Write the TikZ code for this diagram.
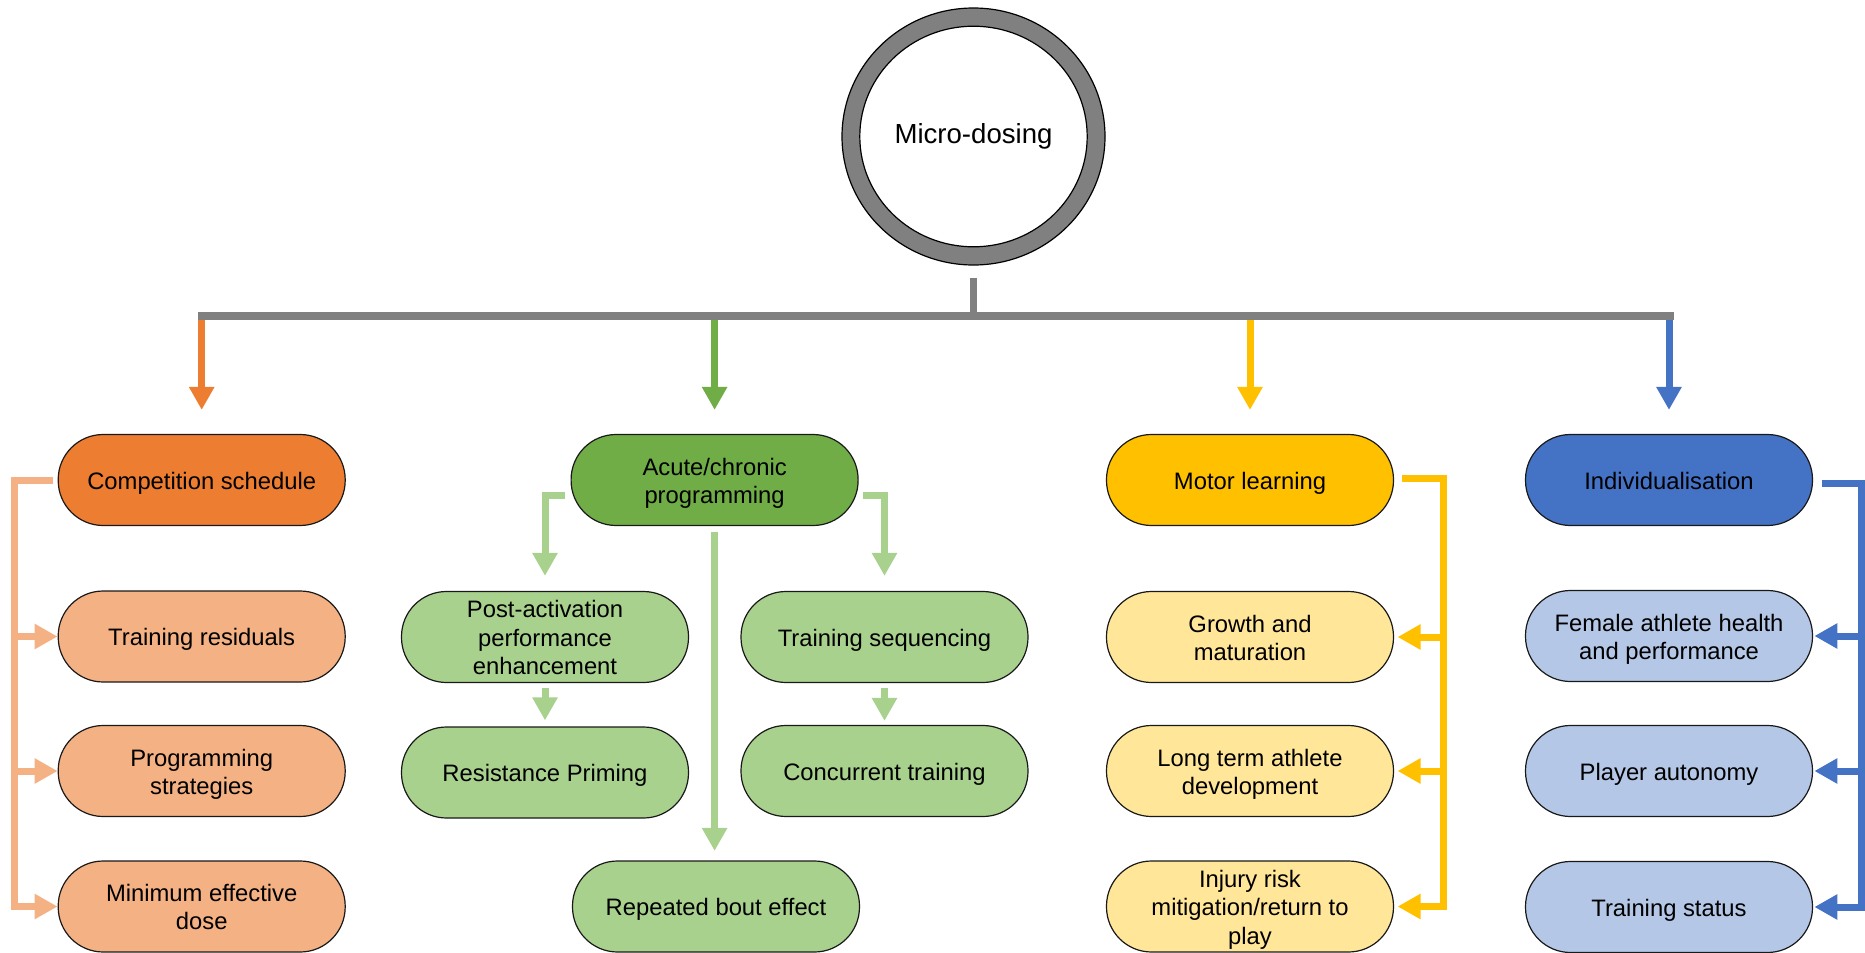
\documentclass[tikz,border=0pt]{standalone}
\usepackage{fontspec}
\setmainfont{Liberation Sans}
\usetikzlibrary{arrows.meta,calc,shapes.geometric}
\definecolor{cOrange}{HTML}{ED7D31}
\definecolor{cOrangeL}{HTML}{F4B183}
\definecolor{cGreen}{HTML}{70AD47}
\definecolor{cGreenL}{HTML}{A9D18E}
\definecolor{cYellow}{HTML}{FFC000}
\definecolor{cYellowL}{HTML}{FFE699}
\definecolor{cBlue}{HTML}{4472C4}
\definecolor{cBlueL}{HTML}{B4C7E7}
\definecolor{cGray}{HTML}{808080}
\begin{document}
\begin{tikzpicture}[x=0.5pt,y=-0.5pt,
  box/.style={draw=black!90, line width=0.6pt, rounded corners=22.5pt,
    minimum width=143.5pt, minimum height=45.5pt, inner sep=0pt, align=center,
    font=\fontsize{11.9pt}{14.2pt}\selectfont, text height=9.2pt, text depth=0pt},
  two/.style={text height=23.4pt},
  three/.style={text height=37.6pt},
  conn/.style={line width=3.5pt, line join=miter, line cap=butt},
  arr/.style={conn, -{Triangle[width=12pt,length=11.5pt]}},
]
\useasboundingbox (0,0) rectangle (1865,953);

% central circle
\node[ellipse, draw=black, line width=0.6pt, fill=cGray, minimum width=131.5pt,
      minimum height=128.5pt, inner sep=0pt] (outer) at (973.5,136.5) {};
\node[ellipse, draw=black, line width=0.6pt, fill=white, minimum width=113.7pt,
      minimum height=110.3pt, inner sep=0pt,
      font=\fontsize{13.8pt}{16pt}\selectfont] (inner) at (973.5,136.5) {Micro-dosing};

% nodes
\node[box, fill=cOrange]        (comp)  at (201.7,480)   {Competition schedule};
\node[box, fill=cOrangeL]       (tres)  at (201.7,636.5) {Training residuals};
\node[box, two, fill=cOrangeL]  (prog)  at (201.7,771)   {Programming\\strategies};
\node[box, two, fill=cOrangeL]  (mini)  at (201.7,906.5) {Minimum effective\\dose};

\node[box, two, fill=cGreen]    (acute) at (714.6,480)   {Acute/chronic\\programming};
\node[box, three, fill=cGreenL] (pape)  at (545,637)     {Post-activation\\performance\\enhancement};
\node[box, fill=cGreenL]        (resp)  at (545,772.5)   {Resistance Priming};
\node[box, fill=cGreenL]        (seq)   at (884.5,637)   {Training sequencing};
\node[box, fill=cGreenL]        (conc)  at (884.5,771)   {Concurrent training};
\node[box, fill=cGreenL]        (rbe)   at (716,906.5)   {Repeated bout effect};

\node[box, fill=cYellow]         (motor)  at (1250,480)   {Motor learning};
\node[box, two, fill=cYellowL]   (growth) at (1250,637)   {Growth and\\maturation};
\node[box, two, fill=cYellowL]   (ltad)   at (1250,771)   {Long term athlete\\development};
\node[box, three, fill=cYellowL] (injury) at (1250,906.5) {Injury risk\\mitigation/return to\\play};

\node[box, fill=cBlue]         (indiv)  at (1669,480)   {Individualisation};
\node[box, two, fill=cBlueL]   (female) at (1669,636)   {Female athlete health\\and performance};
\node[box, fill=cBlueL]        (auton)  at (1669,771)   {Player autonomy};
\node[box, fill=cBlueL]        (tstat)  at (1669,907)   {Training status};

% bar coordinates
\coordinate (barL) at (197.8,315.5);
\coordinate (barR) at (1674,315.5);

% coloured arrows from bar
\draw[arr, cOrange] (comp.north |- barL) -- ($(comp.north)+(0,-24)$);
\draw[arr, cGreen]  (acute.north |- barL) -- ($(acute.north)+(0,-24)$);
\draw[arr, cYellow] (motor.north |- barL) -- ($(motor.north)+(0,-24)$);
\draw[arr, cBlue]   (indiv.north |- barL) -- ($(indiv.north)+(0,-24)$);

% stem and bar
\draw[conn, cGray] ($(outer.south)+(0,12)$) -- (outer.south |- barL);
\draw[line width=4pt, cGray] (barL) -- (barR);

% orange connectors
\coordinate (oX) at (14.5,0);
\draw[arr, cOrangeL] ($(comp.west)+(-5,0)$) -- (oX |- comp.west) -- (oX |- mini.west) -- (mini.west);
\draw[arr, cOrangeL] (oX |- tres.west) -- (tres.west);
\draw[arr, cOrangeL] (oX |- prog.west) -- (prog.west);

% green connectors
\draw[arr, cGreenL] ($(acute.west)+(-6,15)$) -| ($(pape.north)+(0,-15)$);
\draw[arr, cGreenL] ($(acute.east)+(4,15)$) -| ($(seq.north)+(0,-15)$);
\draw[arr, cGreenL] ($(acute.south)+(0,5.5)$) -- ($(acute.south |- rbe.north)+(0,-9.5)$);
\draw[arr, cGreenL] ($(pape.south)+(0,5)$) -- ($(resp.north)+(0,-6)$);
\draw[arr, cGreenL] ($(seq.south)+(0,5)$) -- ($(conc.north)+(0,-4)$);

% yellow connectors
\coordinate (yX) at (1443,0);
\coordinate (y0) at ($(motor.east)+(8,-2)$);
\draw[arr, cYellow] (y0) -- (yX |- y0) -- (yX |- injury.east) -- ($(injury.east)+(3.5,0)$);
\draw[arr, cYellow] (yX |- growth.east) -- ($(growth.east)+(3.5,0)$);
\draw[arr, cYellow] (yX |- ltad.east) -- ($(ltad.east)+(3.5,0)$);

% blue connectors
\coordinate (bX) at (1861.5,0);
\coordinate (b0) at ($(indiv.east)+(8.5,3)$);
\draw[arr, cBlue] (b0) -- (bX |- b0) -- (bX |- tstat.east) -- ($(tstat.east)+(1.3,0)$);
\draw[arr, cBlue] (bX |- female.east) -- ($(female.east)+(1.3,0)$);
\draw[arr, cBlue] (bX |- auton.east) -- ($(auton.east)+(1.3,0)$);
\end{tikzpicture}
\end{document}
